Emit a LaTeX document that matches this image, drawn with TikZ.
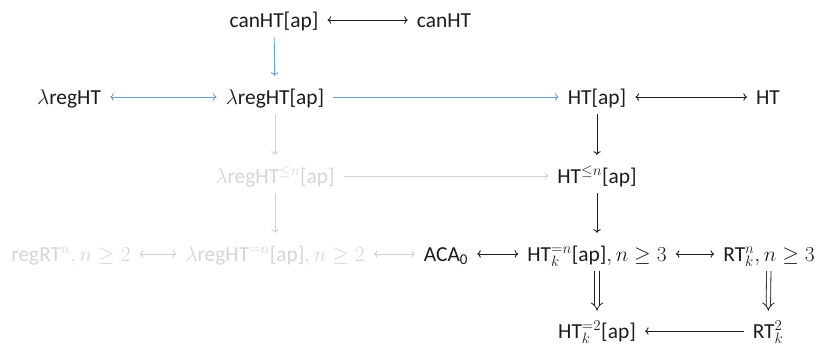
\RequirePackage{fix-cm}
\documentclass[tikz,border=0pt]{standalone}
\usepackage{amsmath}
\usepackage{fontspec}
\setmainfont{Carlito}
\usetikzlibrary{arrows.meta}
\definecolor{ablue}{RGB}{112,158,206}
\definecolor{fade}{RGB}{214,214,214}
\definecolor{fadearrow}{RGB}{208,208,208}
\definecolor{ink}{RGB}{28,28,28}
\begin{document}
\begin{tikzpicture}[x=1pt,y=-1pt,
  obj/.style={inner xsep=9pt, inner ysep=10pt, text height=14pt, text depth=0pt,
    font=\fontsize{21.4}{26}\selectfont, text=ink},
  faded/.style={obj, text=fade},
  blk/.style={line width=0.9pt, draw=ink},
  blu/.style={line width=0.9pt, draw=ablue},
  gry/.style={line width=0.9pt, draw=fadearrow},
  vshort/.style={shorten >=4pt},
  dbl/.style={draw=ink, line width=0.8pt, double=white, double distance=3.6pt, -{Implies}, shorten >=3pt}
]
\fill[white] (0,0) rectangle (820,346);
\useasboundingbox (0,0) rectangle (820,346);

\node[obj] (canHTap) at (274,20) {canHT[ap]};
\node[obj] (canHT) at (444,20) {canHT};
\node[obj] (lreg) at (69,97) {$\lambda$regHT};
\node[obj] (lregap) at (275,97) {$\lambda$regHT[ap]};
\node[obj] (HTap) at (597,97) {HT[ap]};
\node[obj] (HT) at (768,97) {HT};
\node[faded] (lregle) at (275,176) {$\lambda$regHT$^{\leq n}$[ap]};
\node[obj] (HTle) at (597,176) {HT$^{\leq n}$[ap]};
\node[faded] (regRT) at (71,254) {regRT$^n, n\geq 2$};
\node[faded] (lregeq) at (275,254) {$\lambda$regHT$^{=n}$[ap]$, n\geq 2$};
\node[obj] (ACA) at (446,254) {ACA$_{\text{0}}$};
\node[obj] (HTeq) at (597,254) {HT$^{=n}_k$[ap]$, n\geq 3$};
\node[obj] (RTn) at (769,254) {RT$^n_k, n\geq 3$};
\node[obj] (HTeq2) at (597,331) {HT$^{=2}_k$[ap]};
\node[obj] (RT2) at (768,331) {RT$^2_k$};

% blue
\draw[blu,->,vshort] (canHTap) -- (lregap);
\draw[blu,<->] (lreg) -- (lregap);
\draw[blu,->] (lregap) -- (HTap);
% faded
\draw[gry,->,vshort] (lregap) -- (lregle);
\draw[gry,->] (lregle) -- (HTle);
\draw[gry,->,vshort] (lregle) -- (lregeq);
\draw[gry,<->] (regRT) -- (lregeq);
\draw[gry,<->] (lregeq) -- (ACA);
% black
\draw[blk,<->] (canHTap) -- (canHT);
\draw[blk,<->] (HTap) -- (HT);
\draw[blk,->,vshort] (HTap) -- (HTle);
\draw[blk,->,vshort] (HTle) -- (HTeq);
\draw[blk,<->] (ACA) -- (HTeq);
\draw[blk,<->] (HTeq) -- (RTn);
\draw[dbl] (HTeq) -- (HTeq2);
\draw[dbl] (RTn) -- (RT2);
\draw[blk,->] (RT2) -- (HTeq2);
\end{tikzpicture}
\end{document}
